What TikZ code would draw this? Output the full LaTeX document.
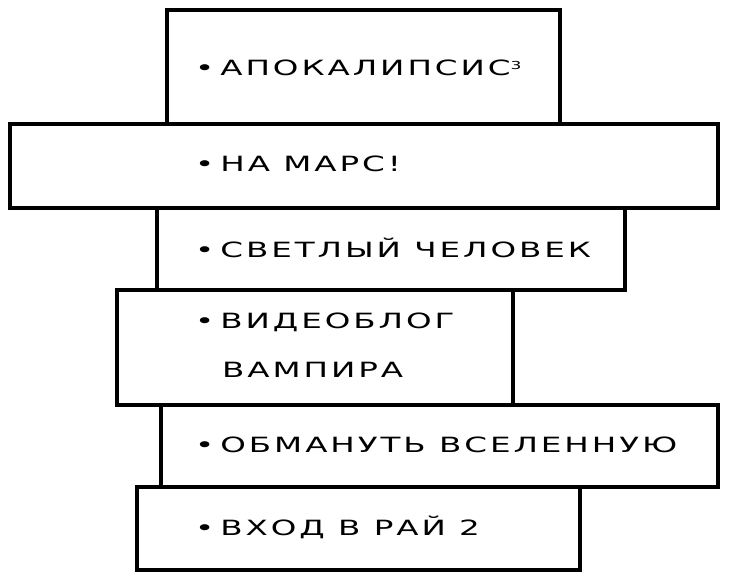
\documentclass[tikz,border=0pt]{standalone}
\usepackage{fontspec}
\setmainfont{DejaVu Sans}[FakeStretch=1.55,LetterSpace=14]
\begin{document}
\begin{tikzpicture}[x=1pt,y=-1pt,
    box/.style={draw, line width=4pt, inner sep=0pt},
    item/.style={anchor=west, inner sep=0pt, font=\fontsize{21}{24}\selectfont}]
    \useasboundingbox (0,0) rectangle (731,583);
    % stacked boxes
    \draw[box] (167,10) rectangle (560,124);
    \draw[box] (10,124) rectangle (718,208);
    \draw[box] (157,208) rectangle (625,290);
    \draw[box] (117,290) rectangle (513,405);
    \draw[box] (161,405) rectangle (718,487);
    \draw[box] (137,487) rectangle (580,570);

    % titles
    \node[item] (apok) at (195,68) {•\hspace{6pt}АПОКАЛИПСИС\raisebox{0.5ex}{\fontsize{11}{12}\selectfont 3}};
    \node[item] (mars) at (195,164) {•\hspace{6pt}НА МАРС!};
    \node[item] (chel) at (195,248) {•\hspace{6pt}СВЕТЛЫЙ ЧЕЛОВЕК};
    \node[item] (blog) at (195,322) {•\hspace{6pt}ВИДЕОБЛОГ};
    \node[item] (vamp) at (222,370) {ВАМПИРА};
    \node[item] (vsel) at (195,445) {•\hspace{6pt}ОБМАНУТЬ ВСЕЛЕННУЮ};
    \node[item] (raj) at (195,527) {•\hspace{6pt}ВХОД В РАЙ 2};
\end{tikzpicture}
\end{document}
